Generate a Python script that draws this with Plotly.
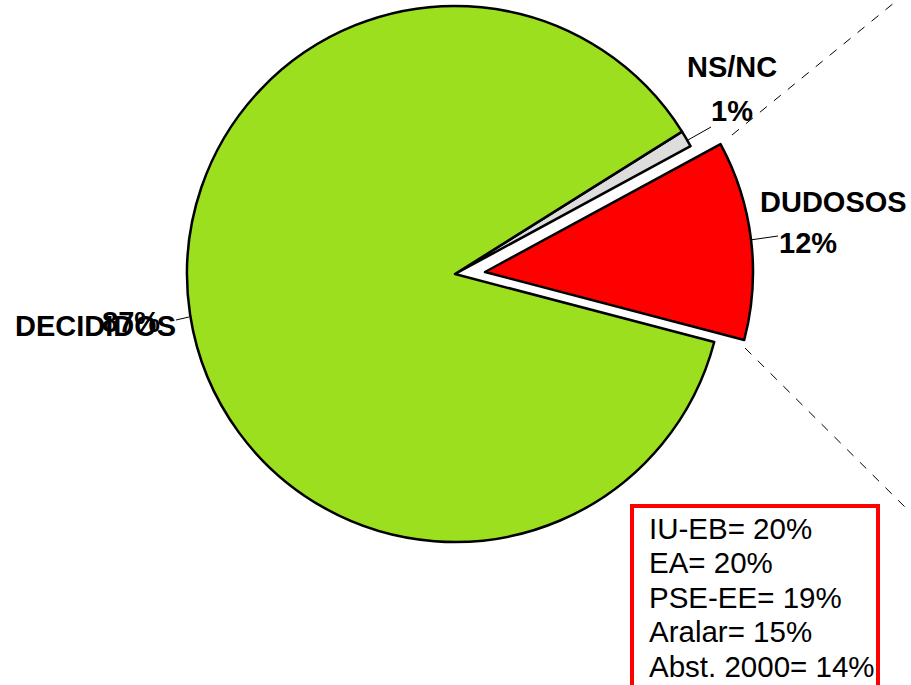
import plotly.graph_objects as go

# ---- data ----
labels = ["NS/NC", "DUDOSOS", "DECIDIDOS"]
values = [1, 12, 87]
colors = ["#DDDDDD", "#FF0000", "#9BDF1F"]
box_parties = ["IU-EB", "EA", "PSE-EE", "Aralar", "Abst. 2000"]
box_values = [20, 20, 19, 15, 14]

W, H = 911, 685
def px(x):
    return x / W
def py(y):
    return 1 - y / H

FONT = "Liberation Sans, Arial, sans-serif"
R = 268
cx, cy = 455, 274          # main pie centre (pixels)
ox, oy = 30, -2            # explode offset of DUDOSOS slice
rotation = 57.9

transparent = "rgba(0,0,0,0)"
exploded = "DUDOSOS"

def dom(cx_, cy_):
    return dict(x=[px(cx_ - R), px(cx_ + R)], y=[py(cy_ + R), py(cy_ - R)])

fig = go.Figure()
# base pie (exploded slice hidden)
fig.add_trace(go.Pie(
    labels=labels, values=values, sort=False, direction="clockwise",
    rotation=rotation, textinfo="none", hoverinfo="label+percent",
    marker=dict(colors=[transparent if l == exploded else c for l, c in zip(labels, colors)],
                line=dict(color="black", width=[0 if l == exploded else 2.5 for l in labels])),
    domain=dom(cx, cy), showlegend=False, automargin=False,
))
# exploded slice
fig.add_trace(go.Pie(
    labels=labels, values=values, sort=False, direction="clockwise",
    rotation=rotation, textinfo="none", hoverinfo="label+percent",
    marker=dict(colors=[c if l == exploded else transparent for l, c in zip(labels, colors)],
                line=dict(color="black", width=[2.5 if l == exploded else 0 for l in labels])),
    domain=dom(cx + ox, cy + oy), showlegend=False, automargin=False,
))

annotations = []
def label(text, x, y, size=29, bold=True, anchor="center"):
    annotations.append(dict(
        text=f"<b>{text}</b>" if bold else text, x=px(x), y=py(y),
        xref="paper", yref="paper", xanchor=anchor, yanchor="middle",
        showarrow=False, font=dict(family=FONT, size=size, color="black")))

pct = {l: f"{v}%" for l, v in zip(labels, values)}
label("NS/NC", 732, 67)
label(pct["NS/NC"], 732, 111)
label("DUDOSOS", 833, 202)
label(pct["DUDOSOS"], 808, 243)
label("DECIDIDOS", 95, 326)
label(pct["DECIDIDOS"], 131, 322)

for i, (p, v) in enumerate(zip(box_parties, box_values)):
    label(f"{p}= {v}%", 647, 528 + i * 34.5, size=29.5, bold=False, anchor="left")

shapes = [
    # leader lines
    dict(type="line", x0=px(688), y0=py(140), x1=px(711), y1=py(127),
         xref="paper", yref="paper", line=dict(color="black", width=1)),
    dict(type="line", x0=px(750), y0=py(240), x1=px(778), y1=py(236),
         xref="paper", yref="paper", line=dict(color="black", width=1)),
    dict(type="line", x0=px(176), y0=py(320), x1=px(189), y1=py(317),
         xref="paper", yref="paper", line=dict(color="black", width=1)),
    # connector dashed lines
    dict(type="line", x0=px(732), y0=py(135), x1=px(900), y1=py(-2),
         xref="paper", yref="paper", line=dict(color="black", width=1, dash="dash")),
    dict(type="line", x0=px(745), y0=py(348), x1=px(913), y1=py(515),
         xref="paper", yref="paper", line=dict(color="black", width=1, dash="dash")),
    # red box
    dict(type="rect", x0=px(632), y0=py(506), x1=px(878), y1=py(720),
         xref="paper", yref="paper", line=dict(color="#FF0000", width=4),
         fillcolor="rgba(0,0,0,0)"),
]

fig.update_layout(
    width=W, height=H, margin=dict(l=0, r=0, t=0, b=0),
    paper_bgcolor="white", plot_bgcolor="white",
    annotations=annotations, shapes=shapes, showlegend=False,
)
fig.write_html("out.html", config={"displayModeBar": False},
               post_script="document.body.style.margin='0px';")
